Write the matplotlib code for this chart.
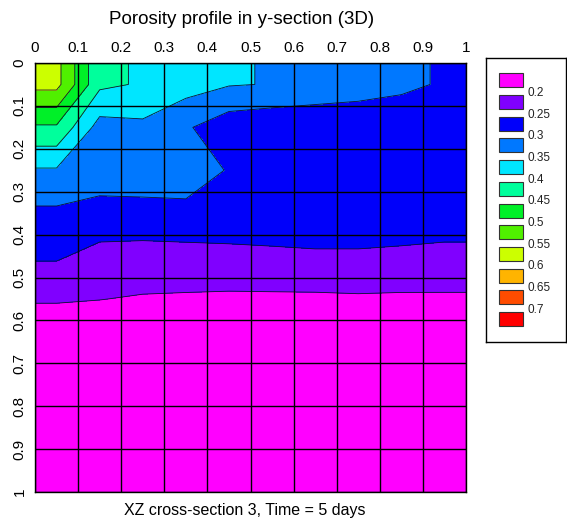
import numpy as np
import matplotlib
matplotlib.use("Agg")
import matplotlib.pyplot as plt
from matplotlib.patches import Rectangle

plt.rcParams['font.family'] = ['Liberation Sans', 'DejaVu Sans']

# cell centres of the 10 x 10 section grid
x_centres = [0.05, 0.15, 0.25, 0.35, 0.45, 0.55, 0.65, 0.75, 0.85, 0.95]
y_centres = [0.05, 0.15, 0.25, 0.35, 0.45, 0.55, 0.65, 0.75, 0.85, 0.95]

# porosity at cell centres, one row per y (top to bottom)
porosity = [
    [0.566, 0.410, 0.395, 0.371, 0.353, 0.348, 0.330, 0.320, 0.310, 0.295],
    [0.443, 0.330, 0.339, 0.306, 0.269, 0.260, 0.266, 0.269, 0.268, 0.270],
    [0.345, 0.325, 0.330, 0.320, 0.2975, 0.280, 0.280, 0.280, 0.280, 0.280],
    [0.291, 0.283, 0.282, 0.290, 0.285, 0.285, 0.285, 0.285, 0.285, 0.285],
    [0.256, 0.234, 0.232, 0.231, 0.236, 0.2395, 0.243, 0.243, 0.239, 0.233],
    [0.205, 0.201, 0.196, 0.1945, 0.192, 0.192, 0.192, 0.194, 0.193, 0.194],
    [0.155, 0.160, 0.160, 0.160, 0.160, 0.160, 0.160, 0.160, 0.160, 0.160],
    [0.160, 0.160, 0.160, 0.160, 0.160, 0.160, 0.160, 0.160, 0.160, 0.160],
    [0.160, 0.160, 0.160, 0.160, 0.160, 0.160, 0.160, 0.160, 0.160, 0.160],
    [0.160, 0.160, 0.160, 0.160, 0.160, 0.160, 0.160, 0.160, 0.160, 0.160],
]

levels = [0.15, 0.2, 0.25, 0.3, 0.35, 0.4, 0.45, 0.5, 0.55, 0.6, 0.65, 0.7, 0.75]
legend_labels = ['0.2', '0.25', '0.3', '0.35', '0.4', '0.45', '0.5', '0.55',
                 '0.6', '0.65', '0.7']
colors = ['#FF00FF', '#8000FF', '#0000FA', '#0078FF', '#00E6FF', '#00FF9C',
          '#00F028', '#50F000', '#CCFF00', '#FFB400', '#FF4C00', '#FF0000']
tick_vals = [0, 0.1, 0.2, 0.3, 0.4, 0.5, 0.6, 0.7, 0.8, 0.9, 1]
tick_labels = ['0', '0.1', '0.2', '0.3', '0.4', '0.5', '0.6', '0.7', '0.8', '0.9', '1']

# extend cell values to the section edges
x = np.r_[0.0, x_centres, 1.0]
y = np.r_[0.0, y_centres, 1.0]
z = np.pad(np.array(porosity), 1, mode='edge')

W, H = 567, 520
fig = plt.figure(figsize=(W / 100, H / 100), dpi=100)
ax = fig.add_axes([35 / W, 1 - 492 / H, 431 / W, 429 / H])

ax.contourf(x, y, z, levels=levels, colors=colors)
ax.contour(x, y, z, levels=levels[1:-1], colors='#101030', linewidths=0.6)

ax.set_xlim(0, 1)
ax.set_ylim(1, 0)
ax.set_xticks(tick_vals)
ax.set_xticklabels(tick_labels)
ax.set_yticks(tick_vals)
ax.set_yticklabels(tick_labels, rotation=90, va='center')
ax.xaxis.tick_top()
ax.tick_params(length=0, labelsize=11, pad=6)
ax.grid(True, color='black', linewidth=1)
ax.set_axisbelow(False)
for s in ax.spines.values():
    s.set_color('black')
    s.set_linewidth(1)

fig.text(242 / W, 1 - 20 / H, 'Porosity profile in y-section (3D)',
         ha='center', va='center', fontsize=13.5)
fig.text(245 / W, 1 - 510 / H, 'XZ cross-section 3, Time = 5 days',
         ha='center', va='center', fontsize=11.5)

# legend box drawn by hand
lax = fig.add_axes([486 / W, 1 - 342 / H, 80 / W, 284 / H])
lax.set_xlim(0, 80)
lax.set_ylim(284, 0)
lax.set_xticks([])
lax.set_yticks([])
for s in lax.spines.values():
    s.set_color('black')
    s.set_linewidth(1)
for i, c in enumerate(colors):
    top = 15.3 + 21.7 * i
    lax.add_patch(Rectangle((13, top), 23.5, 14, facecolor=c,
                            edgecolor='#333333', linewidth=0.8))
    if i < len(legend_labels):
        lax.text(42, top + 19.5, legend_labels[i], ha='left', va='center',
                 fontsize=8.5, color='#222222')

fig.savefig('out.png', dpi=100)
